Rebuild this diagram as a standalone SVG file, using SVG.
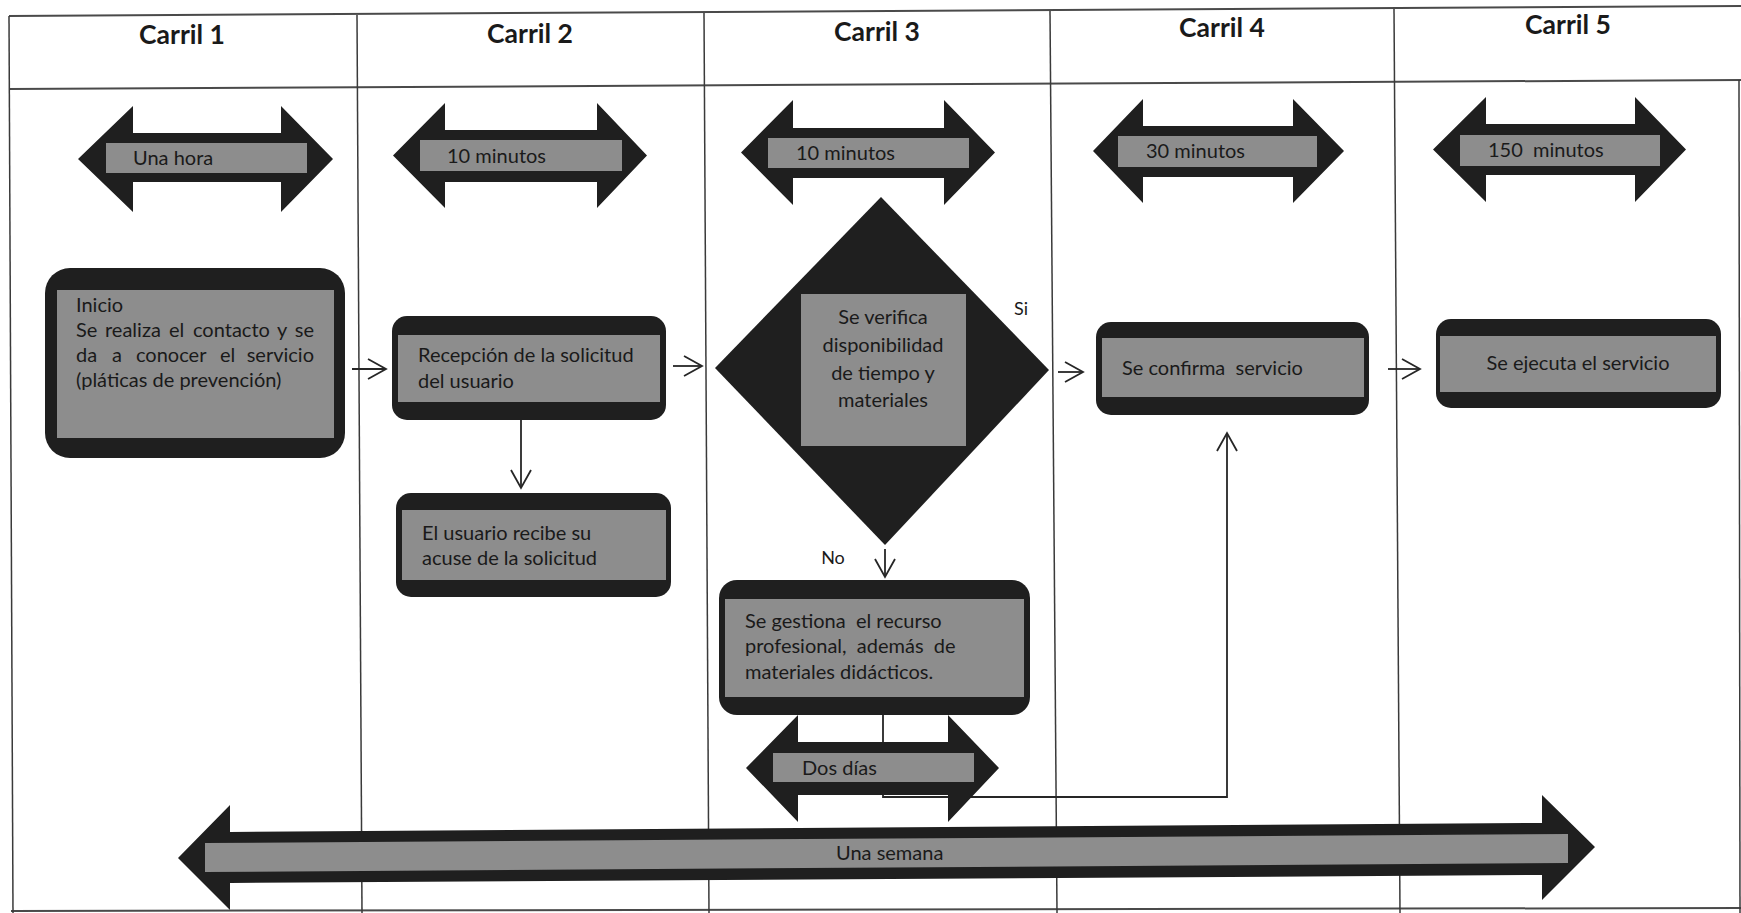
<svg xmlns="http://www.w3.org/2000/svg" width="1741" height="913" viewBox="0 0 1741 913">
<defs>
<style>
.grid{stroke:#3a3a3a;stroke-width:1.5;fill:none}
.gridb{stroke:#4a4a4a;stroke-width:2;fill:none}
.blk{fill:#1f1f1f}
.gry{fill:#8d8d8d}
.hdr{font-family:Lato,"Liberation Sans",sans-serif;font-weight:bold;font-size:26.5px;fill:#1a1a1a;text-anchor:middle}
.t{font-family:Lato,"Liberation Sans",sans-serif;font-size:20px;fill:#1a1a1a}
.c{text-anchor:middle}
.lbl{font-family:Lato,"Liberation Sans",sans-serif;font-size:18px;fill:#1a1a1a;text-anchor:middle}
.con{stroke:#262626;stroke-width:1.8;fill:none}
</style>
<marker id="ah" markerUnits="userSpaceOnUse" markerWidth="24" markerHeight="24" viewBox="0 0 24 24" refX="20" refY="12" orient="auto">
<path d="M2,2 L20,12 L2,22" fill="none" stroke="#262626" stroke-width="1.8"/>
</marker>
</defs>
<rect width="1741" height="913" fill="#ffffff"/>
<g id="table">
<line class="gridb" x1="9" y1="16" x2="1741" y2="6"/>
<line class="gridb" x1="9" y1="89" x2="1741" y2="80"/>
<line class="gridb" x1="11" y1="911" x2="1741" y2="908"/>
<line class="grid" x1="9" y1="16" x2="13" y2="913"/>
<line class="grid" x1="357" y1="15" x2="362" y2="913"/>
<line class="grid" x1="704" y1="13" x2="709" y2="913"/>
<line class="grid" x1="1050" y1="11" x2="1057" y2="913"/>
<line class="grid" x1="1394" y1="9" x2="1400" y2="913"/>
<line class="grid" x1="1739" y1="80" x2="1740" y2="913"/>
<text class="hdr" x="182" y="44">Carril 1</text>
<text class="hdr" x="530" y="43">Carril 2</text>
<text class="hdr" x="877" y="41">Carril 3</text>
<text class="hdr" x="1222" y="37">Carril 4</text>
<text class="hdr" x="1568" y="34">Carril 5</text>
</g>
<g id="connectors">
<line class="con" x1="352" y1="369" x2="386" y2="369" marker-end="url(#ah)"/>
<line class="con" x1="521" y1="420" x2="521" y2="488" marker-end="url(#ah)"/>
<line class="con" x1="673" y1="366" x2="702" y2="366" marker-end="url(#ah)"/>
<line class="con" x1="1058" y1="372" x2="1083" y2="372" marker-end="url(#ah)"/>
<line class="con" x1="1388" y1="369" x2="1420" y2="369" marker-end="url(#ah)"/>
<line class="con" x1="885" y1="549" x2="885" y2="577" marker-end="url(#ah)"/>
<polyline class="con" points="883,715 883,797 1227,797 1227,433" marker-end="url(#ah)"/>
</g>
<g id="t1">
<polygon class="blk" points="78,159 133,106 133,133 281,133 281,106 333,159 281,212 281,182 133,182 133,212"/>
<rect class="gry" x="106" y="143" width="201" height="30"/>
<text class="t" x="133" y="165">Una hora</text>
</g>
<g id="t2">
<polygon class="blk" points="393,155.5 445,103 445,130 597,130 597,103 647,155.5 597,208 597,182 445,182 445,208"/>
<rect class="gry" x="420" y="140" width="202" height="31"/>
<text class="t" x="447" y="163">10 minutos</text>
</g>
<g id="t3">
<polygon class="blk" points="741,152.5 793,100 793,128 944,128 944,100 995,152.5 944,205 944,178 793,178 793,205"/>
<rect class="gry" x="768" y="138" width="201" height="30"/>
<text class="t" x="796" y="160">10 minutos</text>
</g>
<g id="t4">
<polygon class="blk" points="1093,151 1143,99 1143,126 1293,126 1293,99 1344,151 1293,203 1293,177 1143,177 1143,203"/>
<rect class="gry" x="1118" y="136" width="199" height="31"/>
<text class="t" x="1146" y="158">30 minutos</text>
</g>
<g id="t5">
<polygon class="blk" points="1433,149.5 1486,97 1486,124 1635,124 1635,97 1686,149.5 1635,202 1635,175 1486,175 1486,202"/>
<rect class="gry" x="1460" y="135" width="200" height="31"/>
<text class="t" x="1488" y="157" xml:space="preserve">150  minutos</text>
</g>
<g id="inicio">
<rect class="blk" x="45" y="268" width="300" height="190" rx="25"/>
<rect class="gry" x="57" y="290" width="277" height="148"/>
<text class="t" x="76" y="312">Inicio</text>
<text class="t" y="337"><tspan x="76">Se</tspan><tspan x="105">realiza</tspan><tspan x="169">el</tspan><tspan x="193">contacto</tspan><tspan x="277">y</tspan><tspan x="314" text-anchor="end">se</tspan></text>
<text class="t" y="362"><tspan x="76">da</tspan><tspan x="112">a</tspan><tspan x="136">conocer</tspan><tspan x="220">el</tspan><tspan x="314" text-anchor="end">servicio</tspan></text>
<text class="t" x="76" y="387">(pláticas de prevención)</text>
</g>
<g id="recepcion">
<rect class="blk" x="392" y="316" width="274" height="104" rx="15"/>
<rect class="gry" x="398" y="335" width="262" height="67"/>
<text class="t" x="418" y="362">Recepción de la solicitud</text>
<text class="t" x="418" y="388">del usuario</text>
</g>
<g id="acuse">
<rect class="blk" x="396" y="493" width="275" height="104" rx="15"/>
<rect class="gry" x="402" y="510" width="264" height="70"/>
<text class="t" x="422" y="540">El usuario recibe su</text>
<text class="t" x="422" y="565">acuse de la solicitud</text>
</g>
<g id="decision">
<polygon class="blk" points="881,197 1049,370 885,545 715,368"/>
<rect class="gry" x="801" y="294" width="165" height="152"/>
<text class="t c" x="883" y="324">Se verifica</text>
<text class="t c" x="883" y="352">disponibilidad</text>
<text class="t c" x="883" y="380">de tiempo y</text>
<text class="t c" x="883" y="407">materiales</text>
</g>
<g id="lbl-si"><text class="lbl" x="1021" y="315">Si</text></g>
<g id="lbl-no"><text class="lbl" x="833" y="564">No</text></g>
<g id="dosdias">
<polygon class="blk" points="746,768 798,715 798,742 948,742 948,715 999,768 948,822 948,795 798,795 798,822"/>
<rect class="gry" x="773" y="753" width="201" height="29"/>
<text class="t" x="802" y="775">Dos días</text>
</g>
<g id="gestiona">
<rect class="blk" x="719" y="580" width="311" height="135" rx="18"/>
<rect class="gry" x="725" y="599" width="299" height="98"/>
<text class="t" x="745" y="628" xml:space="preserve">Se gestiona  el recurso</text>
<text class="t" x="745" y="653" xml:space="preserve">profesional,  además  de</text>
<text class="t" x="745" y="679">materiales didácticos.</text>
</g>
<g id="confirma">
<rect class="blk" x="1096" y="322" width="273" height="93" rx="15"/>
<rect class="gry" x="1102" y="338" width="262" height="59"/>
<text class="t" x="1122" y="375" xml:space="preserve">Se confirma  servicio</text>
</g>
<g id="ejecuta">
<rect class="blk" x="1436" y="319" width="285" height="89" rx="15"/>
<rect class="gry" x="1440" y="336" width="276" height="56"/>
<text class="t c" x="1578" y="370">Se ejecuta el servicio</text>
</g>
<g id="semana">
<polygon class="blk" points="178,858 230,805 230,832 1542,823 1542,795 1595,847 1542,900 1542,875 230,883 230,910"/>
<polygon class="gry" points="205,843 1568,834 1568,863 205,872"/>
<text class="t" x="836" y="860">Una semana</text>
</g>
</svg>
